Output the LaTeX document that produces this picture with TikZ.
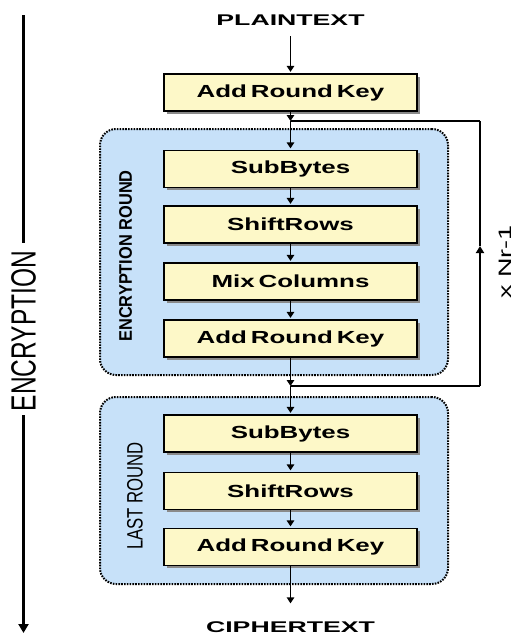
\documentclass[tikz,border=0pt]{standalone}
\usepackage{graphicx}
\usepackage{fontspec}
\setmainfont{Liberation Sans}
\usetikzlibrary{arrows.meta,shadows}

\definecolor{stepfill}{HTML}{FDF8C8}
\definecolor{roundfill}{HTML}{C7E1F9}
\definecolor{shadowgray}{HTML}{8A8A8A}

% wide bold lettering used inside the stage boxes
\newcommand\stagetext[1]{\scalebox{1.48}[1]{\fontsize{17.5}{20}\selectfont\bfseries\spaceskip=0.15em\relax #1}}
% wide bold lettering for the input and output
\newcommand\iotext[1]{\scalebox{1.72}[1]{\fontsize{15.5}{18}\selectfont\bfseries #1}}

\begin{document}
\begin{tikzpicture}[x=1pt,y=-1pt,
  stagebox/.style={draw=black, line width=1.3pt, fill=stepfill,
    minimum width=253pt, minimum height=37pt, inner sep=0pt,
    drop shadow={shadow xshift=3pt, shadow yshift=-2.5pt, fill=shadowgray, opacity=1}},
  roundbox/.style={draw=black, fill=roundfill, line width=2pt,
    dash pattern=on 1.6pt off 1.2pt, rounded corners=16pt, inner sep=0pt},
  flow/.style={line width=1.4pt, -{Triangle[width=7.5pt,length=6pt]}, shorten >=1.5pt},
  plainline/.style={line width=1.4pt},
  loopline/.style={line width=2pt},
  sideline/.style={line width=2.6pt},
]
\useasboundingbox (0,0) rectangle (518,635);

% round containers
\node[roundbox, minimum width=348pt, minimum height=246pt] (encround) at (274,252) {};
\node[roundbox, minimum width=348pt, minimum height=187pt] (lastround) at (274,490.5) {};

% round labels
\node[rotate=90, inner sep=0pt] (enclab) at (125.5,256)
  {\scalebox{0.9}[1]{\fontsize{18.2}{20}\selectfont\bfseries ENCRYPTION ROUND}};
\node[rotate=90, inner sep=0pt] (lastlab) at (135,496)
  {\scalebox{0.75}[1]{\fontsize{22.3}{24}\selectfont LAST ROUND}};

% input and output
\node[inner sep=0pt] (plain) at (290.5,20.5) {\iotext{PLAINTEXT}};
\node[inner sep=0pt] (cipher) at (290.5,627) {\iotext{CIPHERTEXT}};

% stages
\node[stagebox] (ark0) at (290.5,92.5) {\stagetext{Add Round Key}};
\node[stagebox] (sb1)  at (290.5,169)  {\stagetext{SubBytes}};
\node[stagebox] (sr1)  at (290.5,224.5){\stagetext{ShiftRows}};
\node[stagebox] (mc1)  at (290.5,281.5){\stagetext{Mix Columns}};
\node[stagebox] (ark1) at (290.5,338.5){\stagetext{Add Round Key}};
\node[stagebox] (sb2)  at (290.5,433.5){\stagetext{SubBytes}};
\node[stagebox] (sr2)  at (290.5,491)  {\stagetext{ShiftRows}};
\node[stagebox] (ark2) at (290.5,547)  {\stagetext{Add Round Key}};

% junctions of the repeat loop
\coordinate (j1) at (290.5,121);
\coordinate (j2) at (290.5,386);
\coordinate (fbT) at (480,121);
\coordinate (fbB) at (480,386);
\coordinate (fbM) at (480,246);

% main data path
\draw[flow, shorten <=10pt] (plain) -- (ark0);
\draw[flow, shorten >=0pt] (ark0) -- (j1);
\draw[flow] (j1) -- (sb1);
\draw[flow] (sb1) -- (sr1);
\draw[flow] (sr1) -- (mc1);
\draw[flow] (mc1) -- (ark1);
\draw[flow, shorten >=0pt] (ark1) -- (j2);
\draw[flow] (j2) -- (sb2);
\draw[flow] (sb2) -- (sr2);
\draw[flow] (sr2) -- (ark2);
\draw[flow, shorten >=18pt] (ark2) -- (cipher);

% repeat loop
\draw[plainline] (j2) -- (fbB);
\draw[loopline, -{Triangle[width=8pt,length=7pt]}] (fbB) -- (fbM);
\draw[loopline] (fbM) -- (fbT);
\draw[plainline] (fbT) -- (j1);
\node[rotate=90, inner sep=0pt] (nrlab) at (505,262)
  {\scalebox{1.5}[1]{\fontsize{18}{20}\selectfont x Nr-1}};

% encryption direction
\node[rotate=90, inner sep=0pt] (enclabel) at (23.5,331)
  {\scalebox{0.7}[1]{\fontsize{35}{40}\selectfont ENCRYPTION}};
\coordinate (encTop) at (23.5,15);
\coordinate (encGapTop) at (23.5,243);
\coordinate (encGapBot) at (23.5,415);
\coordinate (encBot) at (23.5,633);
\draw[sideline] (encTop) -- (encGapTop);
\draw[sideline, -{Triangle[width=10pt,length=9pt]}] (encGapBot) -- (encBot);
\end{tikzpicture}
\end{document}
